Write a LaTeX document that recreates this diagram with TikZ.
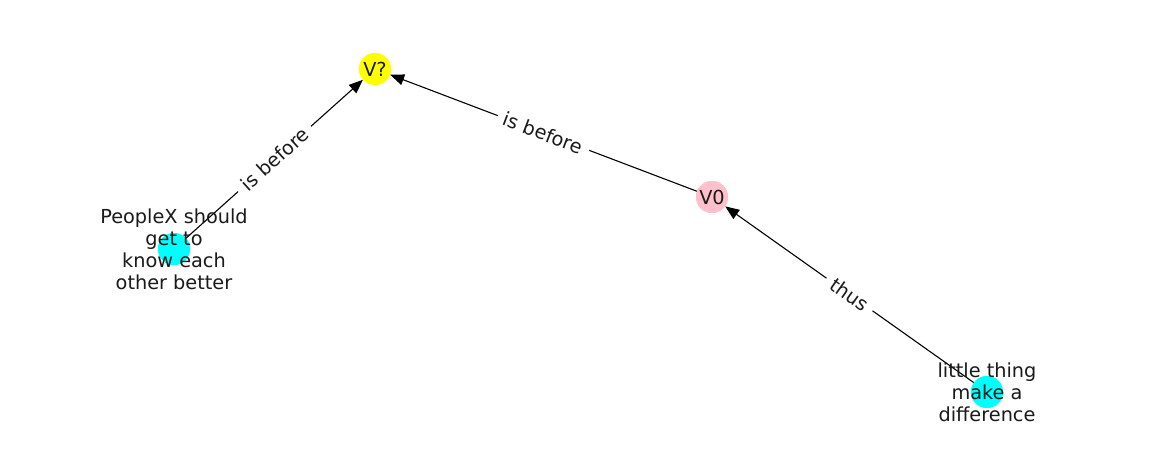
\documentclass[tikz,border=0pt]{standalone}
\usepackage{fontspec}
\setmainfont{DejaVu Sans}
\usetikzlibrary{arrows.meta}
\definecolor{nodecyan}{HTML}{00FFFF}
\definecolor{nodepink}{HTML}{FFC0CB}
\definecolor{nodeyellow}{HTML}{FFFF00}
\definecolor{txt}{HTML}{1A1A1A}
\begin{document}
\begin{tikzpicture}[x=1pt,y=-1pt,
  vert/.style={circle,minimum size=32pt,inner sep=0pt,font=\fontsize{19.3}{22}\selectfont,text=txt},
  lbl/.style={align=center,font=\fontsize{19.3}{22}\selectfont,text=txt,inner sep=0pt},
  edge/.style={draw=black,line width=1.1pt,-{Triangle[length=14pt,width=11pt]}},
  elbl/.style={midway,sloped,fill=white,inner xsep=7pt,inner ysep=4pt,font=\fontsize{19.3}{22}\selectfont,text=txt}]
\useasboundingbox (0,0) rectangle (1162,462);
\fill[white] (0,0) rectangle (1162,462);
% node positions
\node[vert,fill=nodeyellow] (vq) at (375,69) {};
\node[vert,fill=nodepink] (v0) at (712,197) {};
\node[vert,fill=nodecyan] (p) at (174,249) {};
\node[vert,fill=nodecyan] (l) at (987,392) {};
% edges
\draw[edge] (p) -- node[elbl] {is before} (vq);
\draw[edge] (v0) -- node[elbl] {is before} (vq);
\draw[edge] (l) -- node[elbl] {thus} (v0);
% redraw node circles over edges
\fill[nodeyellow] (vq) circle (16);
\fill[nodepink] (v0) circle (16);
\fill[nodecyan] (p) circle (16);
\fill[nodecyan] (l) circle (16);
% texts
\node[lbl] (tvq) at (vq) {V?};
\node[lbl] (tv0) at (v0) {V0};
\node[lbl] (tp) at (p) {PeopleX should\\get to\\know each\\other better};
\node[lbl] (tl) at (l) {little thing\\make a\\difference};
\end{tikzpicture}
\end{document}
